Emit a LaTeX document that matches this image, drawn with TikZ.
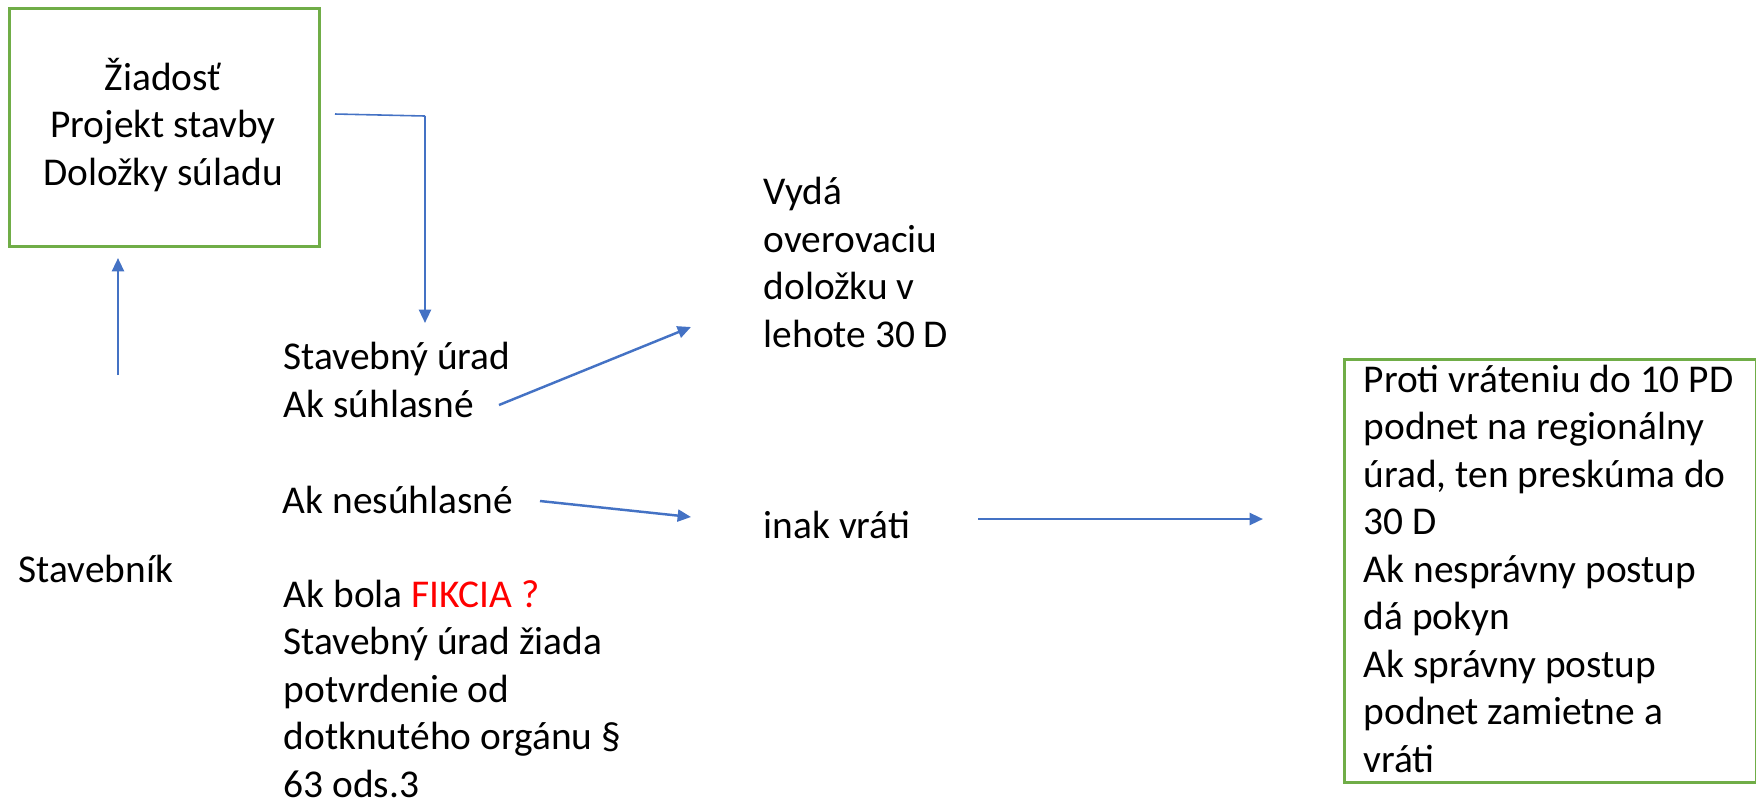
\documentclass[tikz,border=0pt]{standalone}
\usepackage{fontspec}
\setmainfont{Carlito}
\usetikzlibrary{arrows.meta}
\definecolor{boxgreen}{RGB}{112,173,71}
\definecolor{flowblue}{RGB}{68,114,196}
\definecolor{fikred}{RGB}{255,0,0}
\tikzset{
  flow/.style={draw=flowblue,line width=0.7pt,-{Triangle[length=3.8pt,width=3.4pt]}},
  greenbox/.style={draw=boxgreen,line width=0.85pt,anchor=north west,inner sep=0pt}
}
\begin{document}
\begin{tikzpicture}[x=0.01cm,y=-0.01cm]
      \useasboundingbox (0,0) rectangle (1756,802);

      \node (zbox) [greenbox,minimum width=3.10cm,minimum height=2.38cm] at (8,7) {};
      \node (pbox) [greenbox,minimum width=4.12cm,minimum height=4.23cm] at (1343,358) {};

      % texts placed by the baseline of their last line
      \begin{scope}[every node/.style={font=\fontsize{11.2}{13.5}\selectfont,inner sep=0pt,align=left,anchor=base west}]
        \node (zia)  [align=center,anchor=base] at (163,185) {Žiadosť\\Projekt stavby\\Doložky súladu};
        \node (stav) at (18,582)  {Stavebník};
        \node (urad) at (283,417) {Stavebný úrad\\Ak súhlasné};
        \node (nes)  at (282,513) {Ak nesúhlasné};
        \node (fik)  at (283,797) {Ak bola \textcolor{fikred}{FIKCIA ?}\\Stavebný úrad žiada\\potvrdenie od\\dotknutého orgánu §\\63 ods.3};
        \node (vyda) at (763,347) {Vydá\\overovaciu\\doložku v\\lehote 30 D};
        \node (inak) at (763,538) {inak vráti};
        \node (prot) at (1363,772) {Proti vráteniu do 10 PD\\podnet na regionálny\\úrad, ten preskúma do\\30 D\\Ak nesprávny postup\\dá pokyn\\Ak správny postup\\podnet zamietne a\\vráti};
      \end{scope}

      \coordinate (z-out)  at (335,114);
      \coordinate (z-bend) at (425,116);
      \coordinate (u-in)   at (425,323);
      \coordinate (s-out)  at (118,375);
      \coordinate (s-in)   at (118,258);
      \coordinate (a-out)  at (499,405);
      \coordinate (v-in)   at (691,327);
      \coordinate (n-out)  at (540,501);
      \coordinate (i-in)   at (691,517);
      \coordinate (i-out)  at (978,519);
      \coordinate (p-in)   at (1263,519);

      \draw[flowblue,line width=0.45pt] (z-out) -- (z-bend);
      \path[flow] (z-bend) -- (u-in);
      \path[flow] (s-out) -- (s-in);
      \path[flow] (a-out) -- (v-in);
      \path[flow] (n-out) -- (i-in);
      \path[flow] (i-out) -- (p-in);

    \end{tikzpicture}
\end{document}
